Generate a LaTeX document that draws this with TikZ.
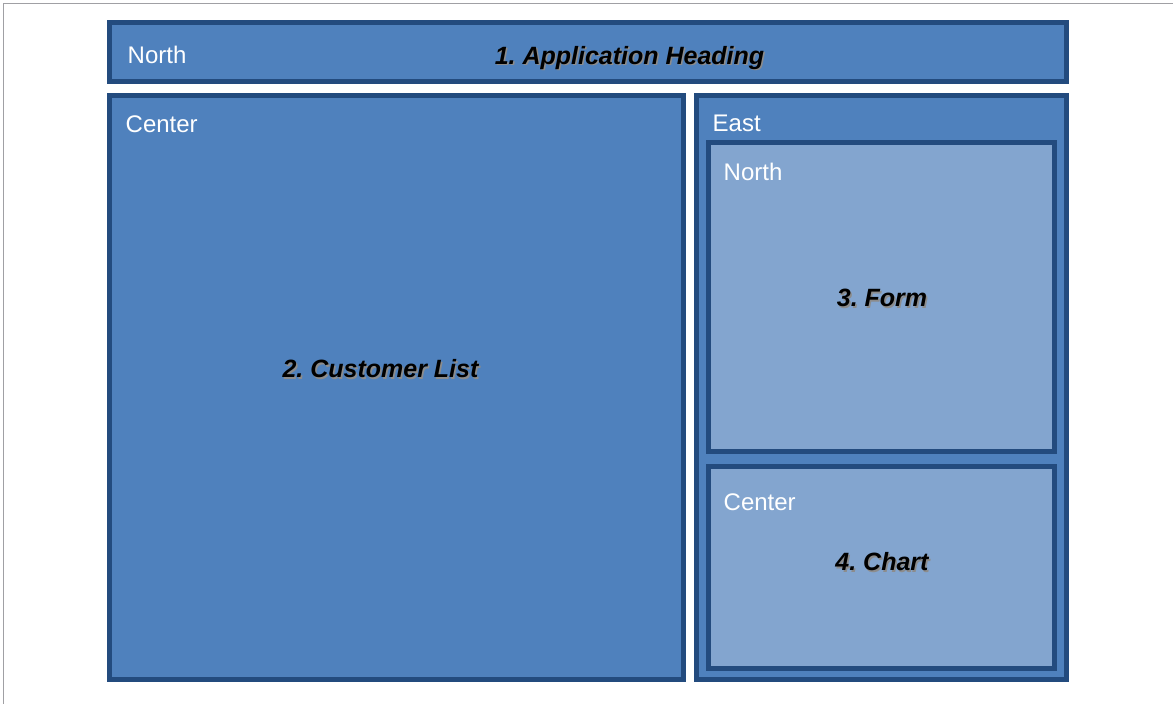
\documentclass[tikz,border=0pt]{standalone}
\usepackage{fontspec}
\setmainfont{Liberation Sans}
\frenchspacing
\usetikzlibrary{positioning}

\definecolor{paneblue}{HTML}{4F81BD}
\definecolor{panelight}{HTML}{83A5CF}
\definecolor{paneedge}{HTML}{234B7E}
\definecolor{framegray}{HTML}{A0A0A4}

\begin{document}
\begin{tikzpicture}[
    x=1pt, y=-1pt,
    pane/.style={draw=paneedge, line width=5pt, fill=paneblue, outer sep=0pt, inner sep=0pt, anchor=north west},
    subpane/.style={pane, fill=panelight},
    region/.style={anchor=north west, text=white, inner sep=0pt, font=\fontsize{24}{28}\selectfont},
    title/.style={inner sep=0pt, text=black, font=\fontsize{25}{30}\selectfont\bfseries\itshape},
    titleshadow/.style={title, text=black!45}
]
\useasboundingbox (0,0) rectangle (1173,704);
\draw[framegray, line width=1.5pt] (3.5,704) -- (3.5,3.5) -- (1173,3.5);

% layout panes
\node[pane, minimum width=957pt, minimum height=59pt] (head) at (109.5,22.5) {};
\node[pane, minimum width=574pt, minimum height=584pt] (list) at (109.5,95.5) {};
\node[pane, minimum width=370pt, minimum height=584pt] (east) at (696.5,95.5) {};
\node[subpane, minimum width=346pt, minimum height=309pt] (form) at (708.5,142.5) {};
\node[subpane, minimum width=346pt, minimum height=202pt] (chart) at (708.5,466) {};

% region names
\node[region] (headnorth) at ([xshift=18pt, yshift=-23pt]head.north west) {North};
\node[region] (listcenter) at ([xshift=16pt, yshift=-20pt]list.north west) {Center};
\node[region] (eastname) at ([xshift=16pt, yshift=-19pt]east.north west) {East};
\node[region] (formnorth) at ([xshift=15pt, yshift=-20pt]form.north west) {North};
\node[region] (chartcenter) at ([xshift=15pt, yshift=-28pt]chart.north west) {Center};

% titles
\node[titleshadow] (headshadow) at ([xshift=43pt, yshift=-7.5pt]head.center) {1. Application Heading};
\node[title] (headtitle) at ([xshift=41.5pt, yshift=-6pt]head.center) {1. Application Heading};
\node[titleshadow] (listshadow) at ([xshift=-14.5pt, yshift=17pt]list.center) {2. Customer List};
\node[title] (listtitle) at ([xshift=-16pt, yshift=18.5pt]list.center) {2. Customer List};
\node[titleshadow] (formshadow) at ([xshift=2pt, yshift=-2.5pt]form.center) {3. Form};
\node[title] (formtitle) at ([xshift=0.5pt, yshift=-1pt]form.center) {3. Form};
\node[titleshadow] (chartshadow) at ([xshift=2pt, yshift=3.5pt]chart.center) {4. Chart};
\node[title] (charttitle) at ([xshift=0.5pt, yshift=5pt]chart.center) {4. Chart};
\end{tikzpicture}
\end{document}
